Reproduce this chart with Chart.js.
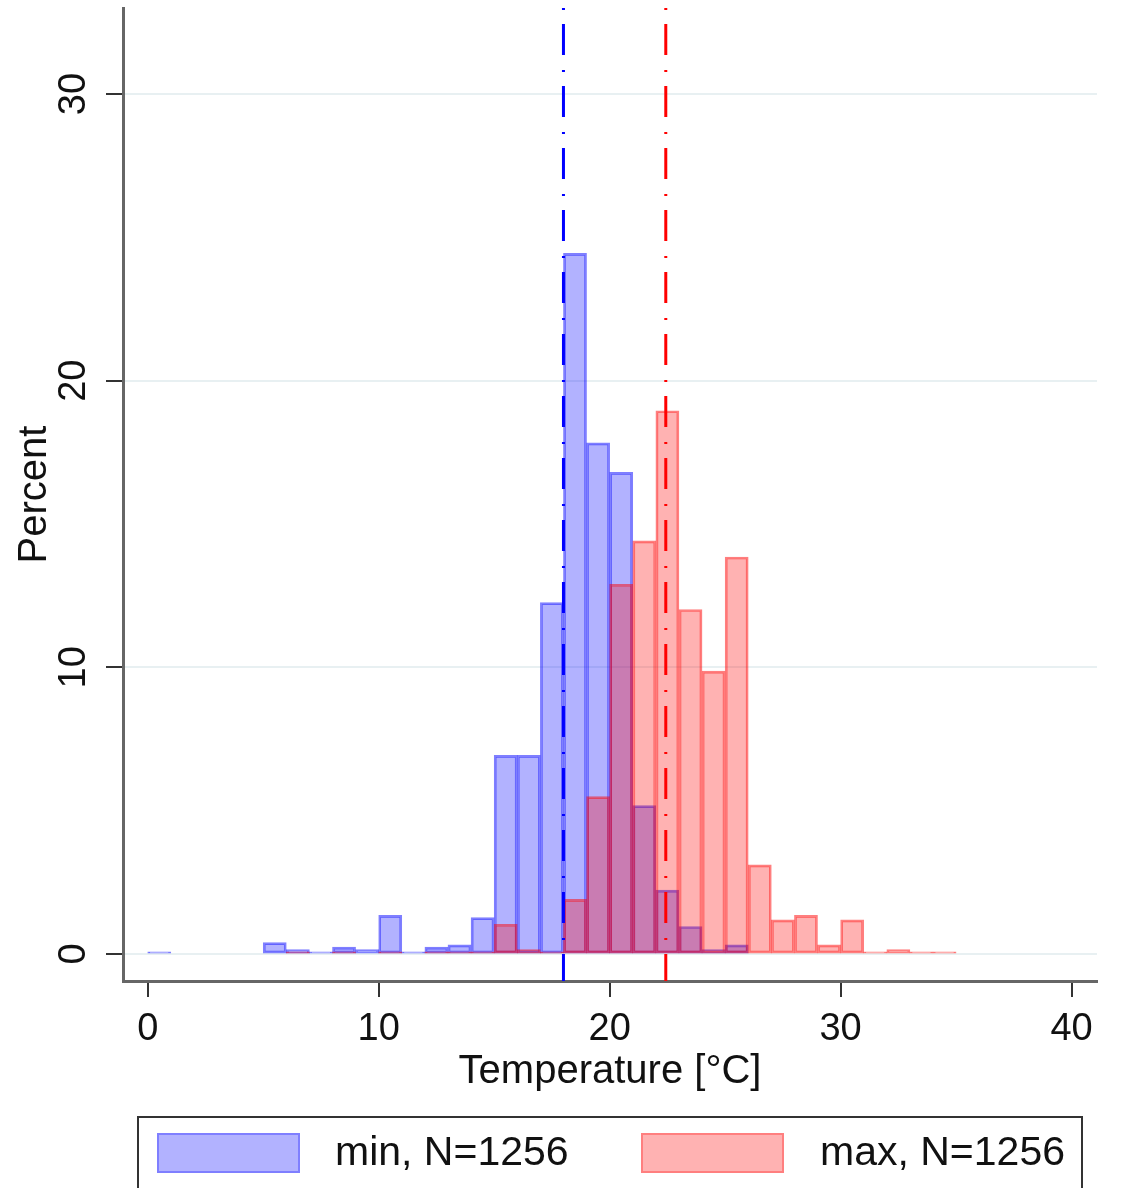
<!DOCTYPE html>
<html>
<head>
<meta charset="utf-8">
<script src="https://cdn.jsdelivr.net/npm/chart.js@4/dist/chart.umd.min.js"></script>
<style>
html,body{margin:0;padding:0;background:#fff;}
canvas{display:block;}
</style>
</head>
<body>
<canvas id="c" width="1122" height="1188" style="width:1122px;height:1188px"></canvas>
<script>
// ---- data ----
const binLeftEdges = [0,1,2,3,4,5,6,7,8,9,10,11,12,13,14,15,16,17,18,19,20,21,22,23,24,25,26,27,28,29,30,31,32,33,34];
const binWidth = 1;
const minPercent = [0.08,null,null,null,null,0.40,0.16,0.08,0.24,0.16,1.35,0.08,0.24,0.32,1.27,6.93,6.93,12.26,24.44,17.83,16.8,5.18,2.23,0.96,0.16,0.32,null,null,null,null,null,null,null,null,null];
const maxPercent = [null,null,null,null,null,null,0.08,null,0.08,null,0.08,null,0.08,0.08,0.08,1.04,0.16,0.08,1.91,5.49,12.9,14.41,18.95,12.02,9.87,13.85,3.11,1.19,1.35,0.32,1.19,0.08,0.16,0.08,0.08];
const seriesLabels = ['min, N=1256', 'max, N=1256'];
const meanTemps = [18.0, 22.43];
const xTicks = [0, 10, 20, 30, 40];
const yTicks = [0, 10, 20, 30];
const xRange = [-1.07, 41.1];
const yRange = [-0.94, 33];

const FONT = '"Liberation Sans", Arial, Helvetica, sans-serif';

function toPoints(values) {
  const pts = [];
  binLeftEdges.forEach((e, i) => {
    if (values[i] !== null) pts.push({x: e + binWidth / 2, y: values[i]});
  });
  return pts;
}

const bgPlugin = {
  id: 'bg',
  beforeDraw(chart) {
    const ctx = chart.ctx;
    ctx.save();
    ctx.fillStyle = '#ffffff';
    ctx.fillRect(0, 0, chart.width, chart.height);
    ctx.restore();
  }
};

const yLabelPlugin = {
  id: 'yLabels',
  afterDraw(chart) {
    const ctx = chart.ctx;
    const ys = chart.scales.y;
    ctx.save();
    ctx.fillStyle = '#111';
    ctx.font = '38px ' + FONT;
    ctx.textAlign = 'center';
    ctx.textBaseline = 'middle';
    yTicks.forEach(v => {
      const py = ys.getPixelForValue(v);
      ctx.save();
      ctx.translate(75, py);
      ctx.rotate(-Math.PI / 2);
      ctx.fillText(String(v), 0, 0);
      ctx.restore();
    });
    ctx.restore();
  }
};

const legendPlugin = {
  id: 'boxLegend',
  afterDraw(chart) {
    const ctx = chart.ctx;
    ctx.save();
    ctx.strokeStyle = '#333';
    ctx.lineWidth = 2;
    ctx.strokeRect(138, 1117, 944, 120);
    const items = [
      {ds: chart.data.datasets[0], bx: 157, tx: 335},
      {ds: chart.data.datasets[1], bx: 641, tx: 820}
    ];
    items.forEach(it => {
      const w = 143, h = 40, y = 1133, b = 2;
      ctx.fillStyle = it.ds.borderColor;
      ctx.fillRect(it.bx, y, w, h);
      ctx.fillStyle = '#fff';
      ctx.fillRect(it.bx + b, y + b, w - 2 * b, h - 2 * b);
      ctx.fillStyle = it.ds.backgroundColor;
      ctx.fillRect(it.bx + b, y + b, w - 2 * b, h - 2 * b);
      ctx.fillStyle = '#111';
      ctx.font = '41px ' + FONT;
      ctx.textAlign = 'left';
      ctx.textBaseline = 'middle';
      ctx.fillText(it.ds.label, it.tx, y + h / 2 + 1);
    });
    ctx.restore();
  }
};

const ctx = document.getElementById('c').getContext('2d');
new Chart(ctx, {
  type: 'bar',
  data: {
    datasets: [
      {
        type: 'bar',
        label: seriesLabels[0],
        data: toPoints(minPercent),
        backgroundColor: 'rgba(0,0,255,0.3)',
        borderColor: 'rgba(0,0,255,0.5)',
        borderWidth: 2,
        borderSkipped: false,
        grouped: false,
        barPercentage: 1,
        categoryPercentage: 1,
        order: 2
      },
      {
        type: 'bar',
        label: seriesLabels[1],
        data: toPoints(maxPercent),
        backgroundColor: 'rgba(255,0,0,0.3)',
        borderColor: 'rgba(255,0,0,0.5)',
        borderWidth: 2,
        borderSkipped: false,
        grouped: false,
        barPercentage: 1,
        categoryPercentage: 1,
        order: 1
      },
      {
        type: 'line',
        label: 'mean min',
        data: [{x: meanTemps[0], y: yRange[1]}, {x: meanTemps[0], y: yRange[0]}],
        borderColor: '#0000ff',
        borderWidth: 3,
        borderDash: [2, 14, 31, 15],
        pointRadius: 0,
        fill: false,
        order: 0
      },
      {
        type: 'line',
        label: 'mean max',
        data: [{x: meanTemps[1], y: yRange[1]}, {x: meanTemps[1], y: yRange[0]}],
        borderColor: '#ff0000',
        borderWidth: 3,
        borderDash: [2, 14, 31, 15],
        pointRadius: 0,
        fill: false,
        order: 0
      }
    ]
  },
  options: {
    responsive: false,
    devicePixelRatio: 1,
    animation: false,
    layout: {padding: {left: 0, right: 25, top: 8, bottom: 88}},
    plugins: {
      legend: {display: false},
      tooltip: {enabled: false}
    },
    scales: {
      x: {
        type: 'linear',
        offset: false,
        min: xRange[0],
        max: xRange[1],
        afterBuildTicks: s => { s.ticks = xTicks.map(v => ({value: v})); },
        afterFit: s => { s.height = 119; },
        grid: {
          display: true,
          offset: false,
          drawOnChartArea: false,
          drawTicks: true,
          tickLength: 16,
          tickColor: '#333',
          lineWidth: 2
        },
        border: {display: true, color: '#666', width: 3},
        ticks: {
          color: '#111',
          font: {family: FONT, size: 38},
          padding: 10,
          maxRotation: 0,
          minRotation: 0,
          autoSkip: false,
          callback: v => String(v)
        },
        title: {
          display: true,
          text: 'Temperature [°C]',
          color: '#111',
          font: {family: FONT, size: 40},
          padding: {top: 4, bottom: 4}
        }
      },
      y: {
        type: 'linear',
        min: yRange[0],
        max: yRange[1],
        afterBuildTicks: s => { s.ticks = yTicks.map(v => ({value: v})); },
        afterFit: s => { s.width = 123; },
        grid: {
          display: true,
          drawOnChartArea: true,
          drawTicks: true,
          tickLength: 17,
          color: '#e8f0f2',
          tickColor: '#333',
          lineWidth: 2
        },
        border: {display: true, color: '#666', width: 3},
        ticks: {display: false},
        title: {
          display: true,
          text: 'Percent',
          color: '#111',
          font: {family: FONT, size: 40},
          padding: {top: 11, bottom: 11}
        }
      }
    }
  },
  plugins: [bgPlugin, yLabelPlugin, legendPlugin]
});
</script>
</body>
</html>
